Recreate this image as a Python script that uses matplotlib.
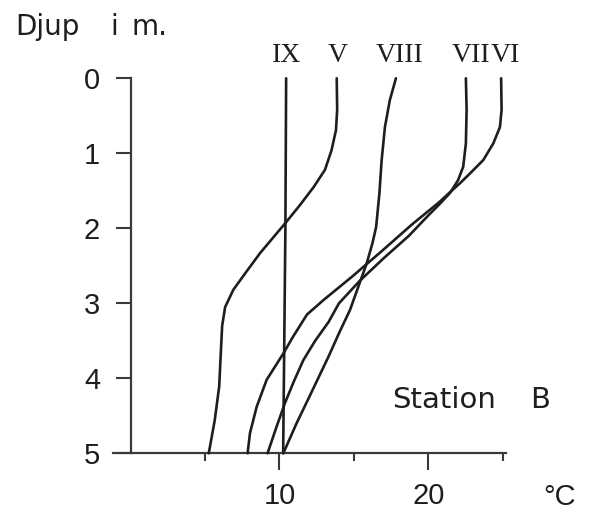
import matplotlib
matplotlib.use("Agg")
import matplotlib.pyplot as plt
from matplotlib import font_manager as fm
from matplotlib.ticker import FixedLocator

# ---------------- data (temperature °C vs depth m) ----------------
depth_IX = [0.0, 2.0, 5.0]
temp_IX = [10.45, 10.4, 10.25]

depth_V = [0.0, 0.42, 0.69, 0.96, 1.22, 1.45, 1.69, 1.93, 2.33, 2.6, 2.82, 3.05, 3.3, 3.7, 4.11, 4.56, 5.0]
temp_V = [13.85, 13.88, 13.8, 13.5, 13.06, 12.3, 11.38, 10.4, 8.7, 7.7, 6.9, 6.35, 6.15, 6.05, 5.95, 5.65, 5.25]

depth_VIII = [0.0, 0.29, 0.65, 1.09, 1.53, 1.98, 2.2, 2.47, 2.78, 3.09, 3.4, 3.71, 4.25, 4.6, 5.0]
temp_VIII = [17.83, 17.42, 17.09, 16.87, 16.72, 16.5, 16.25, 15.86, 15.3, 14.74, 14.0, 13.3, 12.0, 11.15, 10.26]

depth_VII = [0.0, 0.42, 0.87, 1.18, 1.36, 1.53, 1.67, 1.85, 2.1, 2.4, 2.7, 3.0, 3.25, 3.5, 3.76, 4.05, 4.33, 4.65, 5.0]
temp_VII = [22.53, 22.58, 22.53, 22.35, 22.0, 21.46, 20.8, 19.9, 18.7, 17.0, 15.4, 14.0, 13.3, 12.4, 11.6, 10.95, 10.37, 9.8, 9.2]

depth_VI = [0.0, 0.42, 0.65, 0.87, 1.09, 1.27, 1.4, 1.53, 1.65, 1.95, 2.3, 2.65, 2.95, 3.15, 3.45, 3.67, 4.02, 4.38, 4.73, 5.0]
temp_VI = [24.9, 24.93, 24.82, 24.37, 23.7, 22.8, 22.13, 21.4, 20.75, 18.9, 16.9, 14.85, 13.0, 11.85, 10.9, 10.26, 9.14, 8.47, 8.02, 7.86]

series_names = ["IX", "V", "VIII", "VII", "VI"]
label_x = [10.45, 13.9, 18.1, 22.85, 25.15]

y_ticks = [0, 1, 2, 3, 4, 5]
y_ticklabels = ["0", "1", "2", "3", "4", "5"]
x_major = [10, 20]
x_major_labels = ["10", "20"]
x_minor = [5, 15, 25]

# ---------------- fonts ----------------
avail = {f.name for f in fm.fontManager.ttflist}
digits_font = "Liberation Sans" if "Liberation Sans" in avail else "DejaVu Sans"
sans = "DejaVu Sans"
serif = "Liberation Serif" if "Liberation Serif" in avail else "DejaVu Serif"

ink = "#1e1e1e"
axis_ink = "#3a3a3a"

W, H = 592, 515
fig = plt.figure(figsize=(W / 100, H / 100), dpi=100)
fig.patch.set_facecolor("white")

# axes region (pixels): x from 112.8 to 505.6, y from 78.3 (top) to 453.3 (bottom)
ax = fig.add_axes([112.8 / W, (H - 453.3) / H, 392.8 / W, 375.0 / H])
ax.set_xlim(-1.2, 25.2)
ax.set_ylim(5, 0)
ax.set_facecolor("white")

for sp in ("top", "right"):
    ax.spines[sp].set_visible(False)
ax.spines["left"].set_position(("data", 0))
ax.spines["left"].set_color(axis_ink)
ax.spines["left"].set_linewidth(1.6)
ax.spines["bottom"].set_color(axis_ink)
ax.spines["bottom"].set_linewidth(1.6)

# profiles
for d, t in [(depth_IX, temp_IX), (depth_V, temp_V), (depth_VIII, temp_VIII),
             (depth_VII, temp_VII), (depth_VI, temp_VI)]:
    ax.plot(t, d, color=ink, lw=1.9, solid_capstyle="round", solid_joinstyle="round",
            clip_on=False, zorder=3)

# ticks
ax.yaxis.set_major_locator(FixedLocator(y_ticks))
ax.set_yticklabels(y_ticklabels, fontfamily=digits_font, fontsize=21, color=ink)
ax.tick_params(axis="y", direction="out", length=11, width=1.5, color=axis_ink, pad=11)

ax.xaxis.set_major_locator(FixedLocator(x_major))
ax.xaxis.set_minor_locator(FixedLocator(x_minor))
ax.set_xticklabels(x_major_labels, fontfamily=digits_font, fontsize=21, color=ink)
ax.tick_params(axis="x", which="major", direction="out", length=12, width=1.5, color=axis_ink, pad=9)
ax.tick_params(axis="x", which="minor", direction="out", length=6, width=1.5, color=axis_ink)

# series labels (roman numerals)
for name, lx in zip(series_names, label_x):
    ax.text(lx, -0.31, name, ha="center", va="center", fontfamily=serif,
            fontsize=20, color=ink, clip_on=False)

# unit label
ax.text(28.85, 5.58, "°C", ha="center", va="center", fontfamily=digits_font,
        fontsize=21, color=ink, clip_on=False)

# station label
ax.text(17.57, 4.29, "Station", ha="left", va="center", fontfamily=sans,
        fontsize=21, color=ink, clip_on=False)
ax.text(26.83, 4.29, "B", ha="left", va="center", fontfamily=sans,
        fontsize=21, color=ink, clip_on=False)

# title
fig.text(15 / W, 1 - 35 / H, "Djup", ha="left", va="baseline", fontfamily=sans, fontsize=20, color=ink)
fig.text(110 / W, 1 - 35 / H, "i", ha="left", va="baseline", fontfamily=sans, fontsize=20, color=ink)
fig.text(132 / W, 1 - 35 / H, "m.", ha="left", va="baseline", fontfamily=sans, fontsize=20, color=ink)

fig.savefig("out.png", dpi=100, facecolor="white")
